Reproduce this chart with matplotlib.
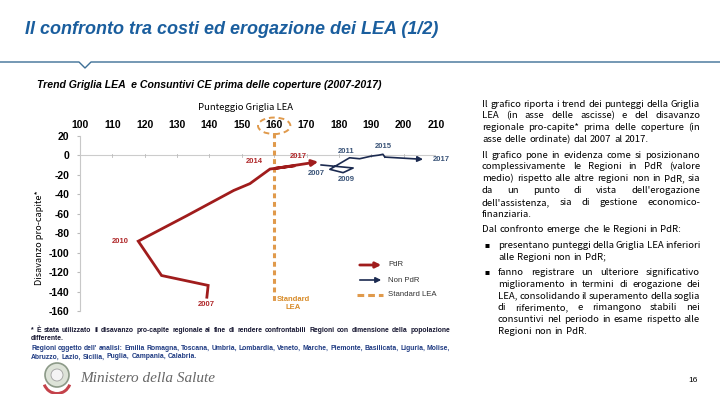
import matplotlib
matplotlib.use("Agg")
import matplotlib.pyplot as plt
from matplotlib.patches import Ellipse, Circle, Wedge, FancyArrowPatch
from matplotlib.lines import Line2D

# ---- data ----
years = list(range(2007, 2018))
pdr_x = [139.2, 139.6, 125.2, 118.0, 133.0, 147.5, 152.5, 158.7, 166.5, 160.5, 173.6]
pdr_y = [-145.8, -133.7, -123.5, -88.2, -62.0, -36.0, -29.0, -14.0, -10.5, -13.2, -6.5]
non_x = [174.5, 184.4, 181.3, 177.2, 183.3, 186.4, 190.0, 192.3, 193.6, 194.2, 206.0]
non_y = [-9.8, -12.9, -17.7, -14.3, -2.4, -3.4, -0.7, 0.3, 1.2, -1.7, -4.0]
pdr_labels = {2007: (138.9, -153), 2010: (112.3, -88), 2014: (154, -6), 2017: (167.5, -1)}
non_labels = {2007: (173, -18.7), 2009: (182.3, -24.5), 2011: (182.3, 4.4),
              2015: (193.8, 9), 2017: (211.6, -4)}
standard_lea = 160
x_ticks = list(range(100, 220, 10))
y_ticks = list(range(20, -180, -20))

RED, RED_L = "#A01C1C", "#B0282A"
NAVY, NAVY_L = "#1B2A50", "#3A5478"
ORANGE = "#E09A4C"
TITLE_BLUE = "#1A5E9E"
JP = ["Noto Sans CJK JP", "DejaVu Sans"]

W, H = 720, 405
fig = plt.figure(figsize=(7.2, 4.05), dpi=100)


def fx(px):
    return px / W


def fy(py):
    return 1 - py / H


# ---- header ----
fig.text(fx(25), fy(30), "Il confronto tra costi ed erogazione dei LEA (1/2)",
         family="Liberation Sans", weight="bold", style="italic", fontsize=13,
         color=TITLE_BLUE, va="center")
fig.add_artist(Line2D([fx(0), fx(79), fx(85), fx(91), fx(720)],
                      [fy(62), fy(62), fy(68), fy(62), fy(62)],
                      color="#3D6F96", lw=1.0))
fig.text(fx(37), fy(85), "Trend Griglia LEA  e Consuntivi CE prima delle coperture (2007-2017)",
         family="Liberation Sans", weight="bold", style="italic", fontsize=7.6,
         color="black", va="center")

# ---- chart ----
ax = fig.add_axes([fx(80), fy(311), 356 / W, 175 / H])
ax.set_xlim(100, 210)
ax.set_ylim(-160, 20)
ax.xaxis.tick_top()
ax.set_xticks(x_ticks)
ax.set_yticks(y_ticks)
ax.set_xticklabels([str(v) for v in x_ticks], family="Liberation Sans",
                   weight="bold", fontsize=7.5)
ax.set_yticklabels([str(v) for v in y_ticks], family="Liberation Sans",
                   weight="bold", fontsize=7.5)
ax.tick_params(axis="x", length=0, pad=4)
ax.tick_params(axis="y", length=2.5, pad=5, color="#BBBBBB")
for s in ["top", "right", "bottom"]:
    ax.spines[s].set_visible(False)
ax.spines["left"].set_color("#C8C8C8")
ax.axhline(0, color="#CCCCCC", lw=0.8, zorder=1)
for xt in x_ticks[1:]:
    ax.plot([xt, xt], [-1.2, 1.2], color="#BBBBBB", lw=0.6, zorder=1)

# standard LEA line
ax.plot([standard_lea, standard_lea], [22.6, -151], color=ORANGE, lw=2.2,
        ls=(0, (1.6, 1.2)), clip_on=False, zorder=2)
ax.add_patch(Ellipse((standard_lea, 30.5), 10, 17, fill=False, ec=ORANGE, lw=1.4,
                     ls=(0, (3, 2)), clip_on=False))
ax.text(165.8, -145, "Standard\nLEA", color="#D88C2A", fontsize=5.5, weight="bold",
        family="Liberation Sans", ha="center", va="top", linespacing=1.1)

# series
ax.plot(pdr_x[:-1], pdr_y[:-1], color=RED, lw=2.0, zorder=4, solid_joinstyle="miter")
ax.annotate("", xy=(pdr_x[-1], pdr_y[-1]), xytext=(pdr_x[-2], pdr_y[-2]),
            arrowprops=dict(arrowstyle="-|>", color=RED, lw=2.0, mutation_scale=9,
                            shrinkA=0, shrinkB=0), zorder=4)
ax.plot(non_x[:-1], non_y[:-1], color=NAVY, lw=1.2, zorder=4)
ax.annotate("", xy=(non_x[-1], non_y[-1]), xytext=(non_x[-2], non_y[-2]),
            arrowprops=dict(arrowstyle="-|>", color=NAVY, lw=1.2, mutation_scale=8,
                            shrinkA=0, shrinkB=0), zorder=4)

for yr, (lx, ly) in pdr_labels.items():
    ax.text(lx, ly, str(yr), color=RED_L, fontsize=5.5, weight="bold",
            family="Liberation Sans", ha="center", va="center")
for yr, (lx, ly) in non_labels.items():
    ax.text(lx, ly, str(yr), color=NAVY_L, fontsize=5.5, weight="bold",
            family="Liberation Sans", ha="center", va="center", clip_on=False)

# axis titles
fig.text(fx(245), fy(108), "Punteggio Griglia LEA", family=JP, fontsize=6.8,
         ha="center", va="center")
fig.text(fx(40), fy(238), "Disavanzo pro-capite*", family=JP, fontsize=6.6,
         rotation=90, ha="center", va="center")

# legend (drawn by hand to get arrow glyphs)
leg = [("PdR", RED, 2.0, "arrow"), ("Non PdR", NAVY, 1.2, "arrow"),
       ("Standard LEA", ORANGE, 2.2, "dash")]
for i, (lab, col, lw, kind) in enumerate(leg):
    yy = fy(265 + i * 15)
    if kind == "arrow":
        fig.add_artist(FancyArrowPatch(
            (fx(357), yy), (fx(384), yy), transform=fig.transFigure,
            arrowstyle="-|>", mutation_scale=8, color=col, lw=lw))
    else:
        fig.add_artist(Line2D([fx(357), fx(383)], [yy, yy], color=col, lw=lw,
                              ls=(0, (2.2, 1.3))))
    fig.text(fx(388), yy, lab, fontsize=5.6, family="Liberation Sans",
             color="#333333", va="center")

# ---- justified text helper ----
renderer = fig.canvas.get_renderer()


def put_line(line, x0, x1, y, fs, justify=True, **kw):
    words = line.split(" ")
    ts = [fig.text(0, fy(y), w, fontsize=fs, va="center", ha="left", **kw)
          for w in words]
    ws = [t.get_window_extent(renderer).width for t in ts]
    space = fs * 0.4
    if justify and len(words) > 1:
        gap = max((x1 - x0 - sum(ws)) / (len(words) - 1), space * 0.6)
    else:
        gap = space
    x = x0
    for t, w in zip(ts, ws):
        t.set_x(fx(x))
        x += w + gap


# footnote
fn = [("* È stata utilizzato il disavanzo pro-capite regionale al fine di rendere "
       "confrontabili Regioni con dimensione della popolazione", True, "#151530", 330),
      ("differente.", False, "#151530", 338.5),
      ("Regioni oggetto dell' analisi: Emilia Romagna, Toscana, Umbria, Lombardia, Veneto, "
       "Marche, Piemonte, Basilicata, Liguria, Molise,", True, "#1E3A82", 348),
      ("Abruzzo, Lazio, Sicilia, Puglia, Campania, Calabria.", False, "#1E3A82", 357)]
for txt, jus, col, yy in fn:
    put_line(txt, 31, 450, yy, 4.9, justify=jus, family="Liberation Sans",
             weight="bold", color=col)

# right panel text
paras = [
    ["Il grafico riporta i trend dei punteggi della Griglia",
     "LEA (in asse delle ascisse) e del disavanzo",
     "regionale pro-capite* prima delle coperture (in",
     "asse delle ordinate) dal 2007 al 2017."],
    ["Il grafico pone in evidenza come si posizionano",
     "complessivamente le Regioni in PdR (valore",
     "medio) rispetto alle altre regioni non in PdR, sia",
     "da un punto di vista dell'erogazione",
     "dell'assistenza, sia di gestione economico-",
     "finanziaria."],
    ["Dal confronto emerge che le Regioni in PdR:"],
]
bullets = [
    ["presentano punteggi della Griglia LEA inferiori",
     "alle Regioni non in PdR;"],
    ["fanno registrare un ulteriore significativo",
     "miglioramento in termini di erogazione dei",
     "LEA, consolidando il superamento della soglia",
     "di riferimento, e rimangono stabili nei",
     "consuntivi nel periodo in esame rispetto alle",
     "Regioni non in PdR."],
]
LS, GAP, FS = 11.9, 3.4, 6.9
y = 104
for p in paras:
    for j, line in enumerate(p):
        put_line(line, 482, 700, y, FS, justify=(j < len(p) - 1), family=JP)
        y += LS
    y += GAP
for b in bullets:
    fig.text(fx(484), fy(y), "■", fontsize=3.6, family=JP, va="center")
    for j, line in enumerate(b):
        put_line(line, 498, 700, y, FS, justify=(j < len(b) - 1), family=JP)
        y += LS
    y += GAP

fig.text(fx(693), fy(381), "16", fontsize=6, family="Liberation Sans",
         ha="center", va="center")

# ---- ministry logo ----
lax = fig.add_axes([fx(38), fy(394), 38 / W, 34 / H])
lax.set_xlim(0, 38)
lax.set_ylim(0, 34)
lax.set_aspect("equal")
lax.axis("off")
lax.add_patch(Circle((19, 19), 12, fc="#DDE3D8", ec="#8C9A88", lw=1.2))
lax.add_patch(Circle((19, 19), 6, fc="#F4F4F4", ec="#A0A0A0", lw=0.6))
lax.add_patch(Wedge((19, 14), 15, 200, 340, width=3, fc="#C4424A", ec="none"))
fig.text(fx(80), fy(378), "Ministero della Salute", family="Liberation Serif",
         style="italic", fontsize=11, color="#666666", va="center")

fig.savefig("out.png", dpi=100)
